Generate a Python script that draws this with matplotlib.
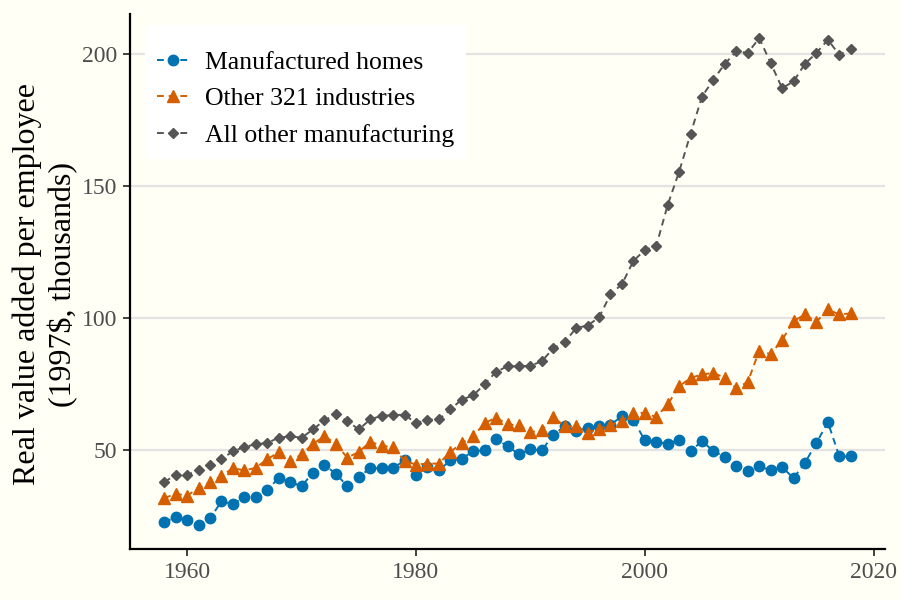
import matplotlib
matplotlib.use("Agg")
import matplotlib.pyplot as plt

years = list(range(1958, 2019))

manufactured_homes = [
    22.9, 24.7, 23.5, 21.9, 24.3, 30.7, 29.7, 32.3, 32.5, 35.1,
    39.5, 38.0, 36.5, 41.6, 44.4, 41.2, 36.4, 39.9, 43.3, 43.2,
    43.3, 46.2, 40.8, 43.7, 42.4, 46.2, 46.8, 49.7, 50.0, 54.2,
    51.6, 48.5, 50.4, 50.0, 55.9, 59.1, 57.3, 58.6, 59.1, 59.7,
    62.9, 61.5, 53.8, 53.2, 52.5, 54.0, 49.7, 53.5, 49.7, 47.5,
    44.1, 42.2, 44.1, 42.4, 43.7, 39.5, 45.3, 52.8, 60.7, 47.7,
    47.7,
]

other_321 = [
    31.9, 33.6, 32.9, 35.7, 38.0, 40.3, 43.3, 42.4, 43.4, 46.7,
    49.2, 45.8, 48.5, 52.5, 55.3, 52.5, 47.2, 49.4, 53.2, 51.8,
    51.1, 46.1, 44.6, 45.0, 45.0, 49.4, 52.8, 55.3, 60.3, 62.4,
    59.8, 59.5, 56.9, 57.6, 62.6, 59.1, 59.1, 56.7, 58.2, 59.5,
    61.1, 64.3, 64.1, 62.6, 67.4, 74.2, 77.4, 78.7, 79.3, 77.4,
    73.4, 75.9, 87.6, 86.4, 91.7, 98.9, 101.4, 98.6, 103.3, 101.4,
    101.8,
]

all_other_mfg = [
    38.0, 40.8, 40.8, 42.4, 44.3, 46.8, 49.6, 51.3, 52.3, 52.8,
    54.8, 55.3, 54.8, 57.9, 61.4, 63.6, 61.1, 57.9, 61.7, 63.1,
    63.3, 63.5, 60.3, 61.6, 61.7, 65.5, 69.2, 70.8, 75.0, 79.7,
    81.8, 81.8, 82.0, 83.7, 88.6, 90.9, 96.3, 97.2, 100.3, 109.0,
    112.8, 121.6, 125.8, 127.3, 142.8, 155.4, 169.7, 183.8, 190.2, 196.2,
    200.9, 200.3, 205.9, 196.5, 187.0, 189.5, 196.2, 200.3, 205.3, 199.6,
    201.9,
]

series_labels = ["Manufactured homes", "Other 321 industries", "All other manufacturing"]
x_ticks = [1960, 1980, 2000, 2020]
y_ticks = [50, 100, 150, 200]

bg = "#FFFFF5"
plt.rcParams["font.family"] = ["Liberation Serif", "DejaVu Serif"]

fig = plt.figure(figsize=(9, 6), dpi=100, facecolor=bg)
ax = fig.add_axes([0.1444, 0.085, 0.839, 0.892], facecolor=bg)

dash = (0, (3.5, 2.5))
ax.plot(years, manufactured_homes, color="#0072B2", linestyle=dash, linewidth=1.4,
        marker="o", markersize=7.5, label=series_labels[0], zorder=3)
ax.plot(years, other_321, color="#D55E00", linestyle=dash, linewidth=1.4,
        marker="^", markersize=9, label=series_labels[1], zorder=3)
ax.plot(years, all_other_mfg, color="#555555", linestyle=dash, linewidth=1.4,
        marker="D", markersize=5.5, label=series_labels[2], zorder=3)

ax.set_xlim(1955, 2021)
ax.set_ylim(12.7, 215.1)
ax.set_xticks(x_ticks)
ax.set_yticks(y_ticks)
ax.yaxis.grid(True, color="#E3E3E3", linewidth=1.6, zorder=0)
ax.xaxis.grid(False)
ax.set_axisbelow(True)

for s in ["top", "right"]:
    ax.spines[s].set_visible(False)
for s in ["left", "bottom"]:
    ax.spines[s].set_color("black")
    ax.spines[s].set_linewidth(1.6)

ax.tick_params(axis="both", colors="#333333", labelcolor="#4D4D4D", labelsize=17,
               length=5, width=1.3, pad=4)

ax.set_ylabel("Real value added per employee\n(1997$, thousands)", fontsize=23,
              color="black", linespacing=1.25, va="center", ha="center")
ax.yaxis.set_label_coords(-0.1115, 0.495)

leg = ax.legend(loc="upper left", bbox_to_anchor=(0.02, 0.979), fontsize=18.5,
                frameon=True, facecolor="white", edgecolor="white", framealpha=1,
                borderaxespad=0, handlelength=1.25, borderpad=0.45, labelspacing=0.52,
                handletextpad=0.62, title=" ", title_fontsize=1)
leg.get_frame().set_boxstyle("square", pad=0)

fig.savefig("out.png", dpi=100, facecolor=bg)
